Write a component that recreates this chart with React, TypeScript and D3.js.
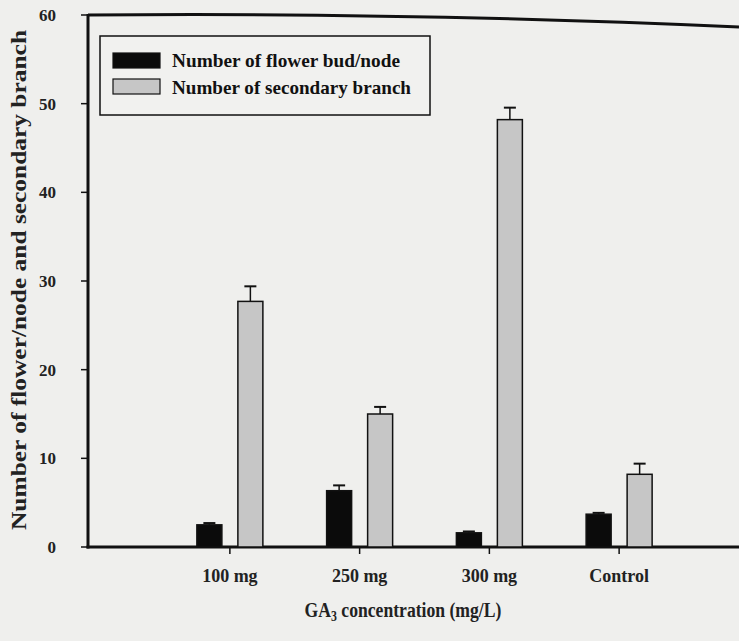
import React, { useEffect } from "react";
import * as d3 from "d3";

const categories = ["100 mg", "250 mg", "300 mg", "Control"];
const budPerNode = [2.5, 6.35, 1.6, 3.7];
const budErr = [0.2, 0.6, 0.15, 0.15];
const secondaryBranch = [27.7, 15.0, 48.2, 8.2];
const branchErr = [1.7, 0.8, 1.35, 1.2];
const yTicks = [0, 10, 20, 30, 40, 50, 60];
const seriesNames = ["Number of flower bud/node", "Number of secondary branch"];

const W = 739;
const H = 641;
const FONT = "'Liberation Serif', 'Times New Roman', Times, serif";

export default function App() {
  useEffect(() => {
    document.body.style.margin = "0";
  }, []);

  const x0 = 88;
  const yScale = d3.scaleLinear().domain([0, 60]).range([547, 15]);
  const xBand = d3.scaleBand<string>().domain(categories).range([165, 684]);
  const barW = 25;
  const gap = 8;

  const series = [
    { values: budPerNode, errs: budErr, fill: "#0b0b0b", offset: -gap - barW },
    { values: secondaryBranch, errs: branchErr, fill: "#c6c6c6", offset: gap },
  ];

  const legendLens = [228, 239];

  return (
    <svg
      width={W}
      height={H}
      style={{ display: "block", background: "#efefed", fontFamily: FONT }}
    >
      <rect x={0} y={0} width={W} height={H} fill="#efefed" />
      {/* frame */}
      <path d={`M${x0},15 Q400,12 ${W},27`} fill="none" stroke="#111" strokeWidth={3} />
      <line x1={x0} x2={x0} y1={14} y2={yScale(0) + 1.5} stroke="#111" strokeWidth={3} />
      <line x1={x0 - 1.5} x2={W} y1={yScale(0)} y2={yScale(0)} stroke="#111" strokeWidth={3} />

      {/* y ticks */}
      {yTicks.map((t) => (
        <g key={t}>
          <line x1={x0 - 7} x2={x0} y1={yScale(t)} y2={yScale(t)} stroke="#111" strokeWidth={1.5} />
          <text
            x={x0 - 32}
            y={yScale(t)}
            dy="0.35em"
            textAnchor="end"
            fontSize={17}
            fontWeight="bold"
            fill="#222"
            style={{ fontFamily: FONT }}
          >
            {t}
          </text>
        </g>
      ))}

      {/* x ticks */}
      {categories.map((c) => {
        const cx = (xBand(c) as number) + xBand.bandwidth() / 2;
        return (
          <g key={c}>
            <line x1={cx} x2={cx} y1={yScale(0)} y2={yScale(0) + 7} stroke="#111" strokeWidth={1.5} />
            <text
              x={cx}
              y={582}
              textAnchor="middle"
              fontSize={18}
              fontWeight="bold"
              fill="#222"
              style={{ fontFamily: FONT }}
            >
              {c}
            </text>
          </g>
        );
      })}

      {/* bars with error bars */}
      {series.map((s, si) =>
        categories.map((c, i) => {
          const cx = (xBand(c) as number) + xBand.bandwidth() / 2;
          const bx = cx + s.offset;
          const top = yScale(s.values[i]);
          const errTop = yScale(s.values[i] + s.errs[i]);
          const mid = bx + barW / 2;
          return (
            <g key={`${si}-${i}`}>
              <line x1={mid} x2={mid} y1={top} y2={errTop} stroke="#111" strokeWidth={1.5} />
              <line x1={mid - 6} x2={mid + 6} y1={errTop} y2={errTop} stroke="#111" strokeWidth={2} />
              <rect
                x={bx}
                y={top}
                width={barW}
                height={yScale(0) - top}
                fill={s.fill}
                stroke="#111"
                strokeWidth={1.5}
              />
            </g>
          );
        })
      )}

      {/* legend */}
      <rect x={100} y={36} width={330} height={79} fill="#f1f1ef" stroke="#111" strokeWidth={1.5} />
      {seriesNames.map((n, i) => (
        <g key={n}>
          <rect
            x={113}
            y={53 + i * 26}
            width={47}
            height={15}
            fill={series[i].fill}
            stroke="#111"
            strokeWidth={1.2}
          />
          <text
            x={172}
            y={67 + i * 27}
            fontSize={19}
            fontWeight="bold"
            fill="#111"
            textLength={legendLens[i]}
            lengthAdjust="spacingAndGlyphs"
            style={{ fontFamily: FONT }}
          >
            {n}
          </text>
        </g>
      ))}

      {/* axis titles */}
      <text
        transform={`translate(26,280) rotate(-90)`}
        textAnchor="middle"
        fontSize={21}
        fontWeight="bold"
        fill="#222"
        textLength={500}
        lengthAdjust="spacingAndGlyphs"
        style={{ fontFamily: FONT }}
      >
        Number of flower/node and secondary branch
      </text>
      <g transform="translate(403,617) scale(0.84,1)">
        <text
          x={0}
          y={0}
          textAnchor="middle"
          fontSize={21}
          fontWeight="bold"
          fill="#222"
          style={{ fontFamily: FONT }}
        >
          GA<tspan fontSize={14} baselineShift="-30%">3</tspan> concentration (mg/L)
        </text>
      </g>
    </svg>
  );
}
